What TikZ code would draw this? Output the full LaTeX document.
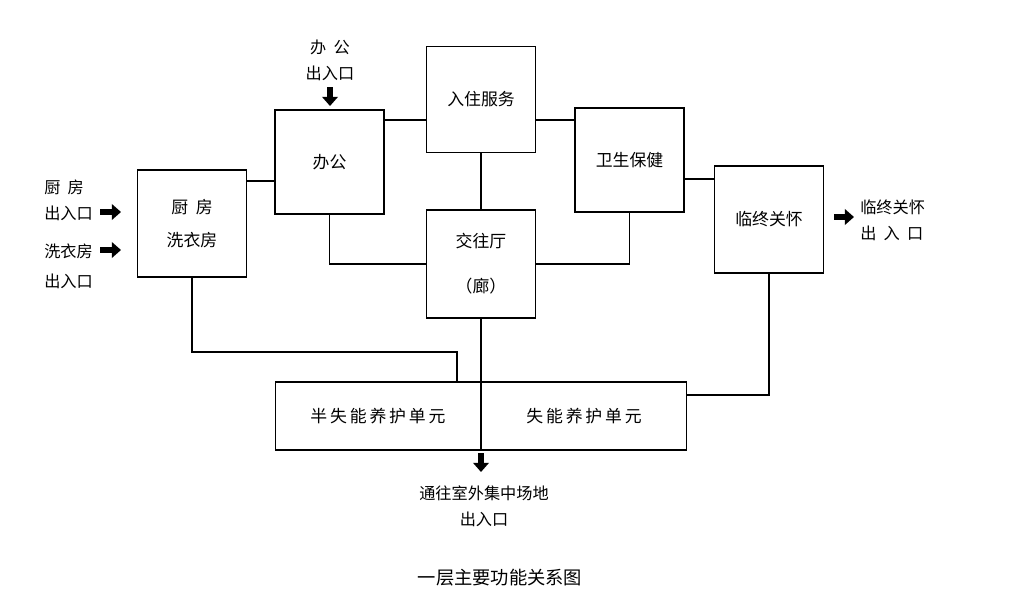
\documentclass[tikz,border=0pt]{standalone}
\usepackage{fontspec}
\setmainfont{Noto Sans CJK SC}
\usepackage{tikz}
\usetikzlibrary{positioning,calc,arrows.meta}

\begin{document}
\begin{tikzpicture}[
	x=0.025cm, y=-0.025cm,
	room/.style={rectangle, draw=black, line width=0.9pt, minimum width=2.72cm, minimum height=2.64cm, inner sep=0pt, font=\fontsize{12}{24}\selectfont, align=center},
	unit/.style={rectangle, draw=black, line width=0.9pt, minimum width=5.12cm, minimum height=1.7cm, inner sep=0pt, font=\fontsize{12}{14}\selectfont},
	link/.style={line width=0.9pt},
	entry/.style={line width=4.5pt, -{Triangle[width=11pt,length=6.5pt]}},
	label/.style={font=\fontsize{11.5}{18.5}\selectfont, inner sep=0pt},
	]
	
	\useasboundingbox (0,0) rectangle (1036,613);
	
	% rooms
	\node[room, minimum height=2.68cm] (kitchen) at (192,223.5) {厨\ \ 房\\洗衣房};
	\node[room, minimum height=2.6cm] (office) at (329.5,162) {办公};
	\node[room] (checkin) at (481,99.5) {入住服务};
	\node[room, minimum height=2.6cm] (health) at (629.5,160) {卫生保健};
	\node[room, minimum height=2.7cm] (lounge) at (481,264) {交往厅\\[8pt]（廊）};
	\node[room, minimum height=2.68cm] (hospice) at (769,219.5) {临终关怀};
	\node[unit, anchor=east] (semi) at (481,416) {半\,失\,能\,养\,护\,单\,元};
	\node[unit, anchor=west] (full) at (481,416) {失\,能\,养\,护\,单\,元};
	
	% links
	\draw[link] (kitchen.east |- 0,181) -- (office.west |- 0,181);
	\draw[link] (office.east |- 0,120) -- (checkin.west |- 0,120);
	\draw[link] (checkin.east |- 0,120) -- (health.west |- 0,120);
	\draw[link] (health.east |- 0,179) -- (hospice.west |- 0,179);
	\draw[link] (checkin.south) -- (lounge.north);
	\draw[link] (office.south) |- (lounge.west);
	\draw[link] (health.south) |- (lounge.east);
	\draw[link] (lounge.south) -- (semi.north east);
	\draw[link] (kitchen.south) |- (457,352) -- (semi.north -| 457,0);
	\draw[link] (full.east |- 0,395) -| (hospice.south);
	
	% entrances
	\node[label, anchor=west, align=left] (kitchenin) at (44,200) {厨\ \ 房\\出入口};
	\node[label, anchor=west, align=left] (laundryin) at (44,266) {洗衣房\\[3pt]出入口};
	\node[label, align=center] (officein) at (330,60) {办\ \ 公\\出入口};
	\node[label, anchor=west, align=left] (hospicein) at (860,220) {临终关怀\\出\ \ 入\ \ 口};
	\node[label, align=center] (outdoorin) at (484,506) {通往室外集中场地\\出入口};
	
	\coordinate (k1) at (100,212);
	\coordinate (k2) at (100,250);
	\coordinate (o1) at (330,87);
	\coordinate (h1) at (834,217);
	\coordinate (d1) at (481,453);
	\draw[entry] (k1) -- ++(21,0);
	\draw[entry] (k2) -- ++(21,0);
	\draw[entry] (o1) -- ++(0,19);
	\draw[entry] (h1) -- ++(20,0);
	\draw[entry] (d1) -- ++(0,19);
	
	\node[font=\fontsize{13}{15}\selectfont] (caption) at (500,578) {一层主要功能关系图};
	
\end{tikzpicture}
\end{document}
